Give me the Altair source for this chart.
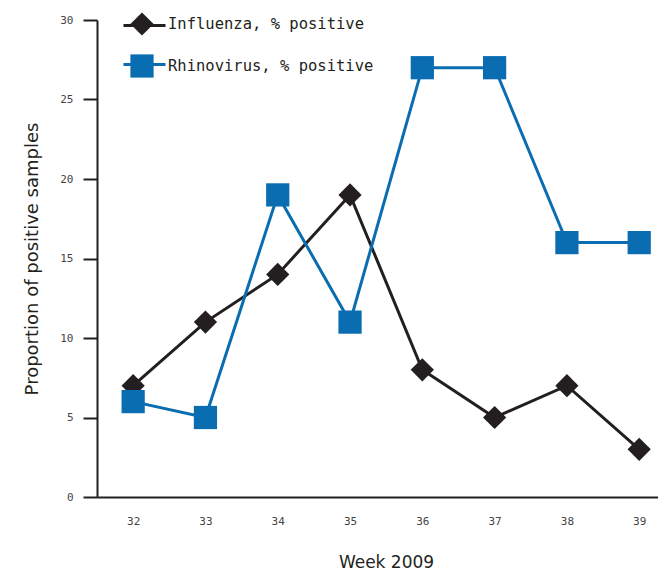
import altair as alt
import pandas as pd

weeks = [32, 33, 34, 35, 36, 37, 38, 39]
influenza = [7, 11, 14, 19, 8, 5, 7, 3]
rhinovirus = [6, 5, 19, 11, 27, 27, 16, 16]
series_names = ["Influenza, % positive", "Rhinovirus, % positive"]
series_colors = ["#231f20", "#0a6db2"]
series_shapes = ["diamond", "square"]

rows = []
for w, v in zip(weeks, influenza):
    rows.append({"week": w, "value": v, "series": series_names[0], "order": 0})
for w, v in zip(weeks, rhinovirus):
    rows.append({"week": w, "value": v, "series": series_names[1], "order": 1})
df = pd.DataFrame(rows)

mono = "DejaVu Sans Mono"
sans = "DejaVu Sans"

x = alt.X("week:Q",
          scale=alt.Scale(domain=[31.5, 39.26], nice=False, zero=False),
          axis=alt.Axis(values=weeks, title="Week 2009", grid=False, ticks=False,
                        domainColor="#231f20", domainWidth=2,
                        labelFont=mono, labelFontSize=11, labelColor="#444444",
                        labelPadding=18, titleFont=sans, titleFontSize=17,
                        titleFontWeight="normal", titleColor="#231f20",
                        titlePadding=28, titleX=289))
y = alt.Y("value:Q",
          scale=alt.Scale(domain=[0, 30], nice=False),
          axis=alt.Axis(values=[0, 5, 10, 15, 20, 25, 30],
                        title="Proportion of positive samples", grid=False,
                        tickSize=14, tickWidth=2, tickColor="#231f20",
                        domainColor="#231f20", domainWidth=2,
                        labelFont=mono, labelFontSize=11, labelColor="#444444",
                        labelPadding=10, titleFont=sans, titleFontSize=18,
                        titleFontWeight="normal", titleColor="#231f20",
                        titlePadding=18))

point_legend = dict(orient="none", legendX=33, legendY=-8, title=None,
                    symbolSize=540, symbolStrokeWidth=0,
                    labelFont=mono, labelFontSize=15.5, labelLimit=400,
                    labelColor="#231f20", labelOffset=14,
                    rowPadding=18, padding=0, symbolOpacity=1)

lines = alt.Chart(df).mark_line(strokeWidth=3).encode(
    x=x, y=y,
    stroke=alt.Stroke("series:N",
                      scale=alt.Scale(domain=series_names, range=series_colors),
                      legend=alt.Legend(orient="none", legendX=25, legendY=-17,
                                        title=None, symbolType="stroke",
                                        symbolSize=1764, symbolStrokeWidth=3,
                                        labelExpr="''", rowPadding=10, padding=0)),
    detail="series:N",
)

points = alt.Chart(df).mark_point(filled=True, opacity=1, size=540, strokeWidth=0).encode(
    x=x, y=y,
    fill=alt.Fill("series:N",
                  scale=alt.Scale(domain=series_names, range=series_colors),
                  legend=alt.Legend(**point_legend)),
    shape=alt.Shape("series:N",
                    scale=alt.Scale(domain=series_names, range=series_shapes),
                    legend=alt.Legend(**point_legend)),
    order="order:Q",
)

chart = alt.layer(lines, points).resolve_scale(
    stroke="independent", fill="independent", shape="independent"
).properties(
    width=561, height=477,
    background="white",
    autosize=alt.AutoSizeParams(type="none"),
    padding={"left": 89, "top": 12, "right": 0, "bottom": 77},
).configure_view(stroke=None)

chart.save("out.html", embed_options={"renderer": "svg", "actions": False})
